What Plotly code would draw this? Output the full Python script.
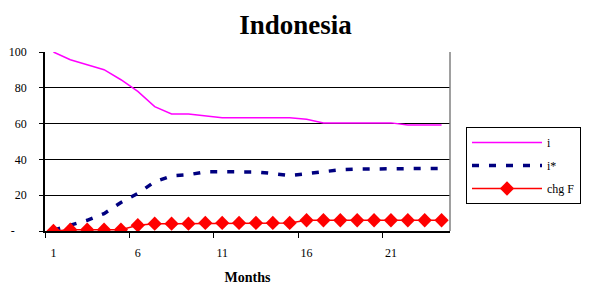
import plotly.graph_objects as go

months = list(range(1, 25))
i_vals = [100, 95.7, 92.9, 90.1, 84.5, 78, 69.5, 65.4, 65.4, 64.3, 63.3, 63.3,
          63.3, 63.3, 63.3, 62.4, 60.4, 60.4, 60.4, 60.4, 60.4, 59.2, 59.2, 59.2]
istar_vals = [0.5, 3.2, 6, 9.7, 15.9, 21, 27.5, 30.8, 31.4, 33.1, 33.1, 33,
              33, 32.1, 31, 32, 33, 34.2, 34.6, 34.6, 34.6, 34.6, 34.6, 35]
chgf_vals = [0, 0.7, 0.7, 0.7, 0.7, 3.2, 4.1, 4.1, 4.1, 4.5, 4.5, 4.5,
             4.5, 4.5, 4.5, 6, 6, 6, 6, 6, 6, 6, 6, 6]
y_ticks = [0, 20, 40, 60, 80, 100]
y_ticktext = ["-\u00a0\u00a0\u00a0\u00a0", "20", "40", "60", "80", "100"]

FONT = "Liberation Serif, Times New Roman, serif"

# page body has an 8px default margin; figure is sized so the plot lands where the reference has it
W, H = 583, 277

fig = go.Figure()
fig.add_trace(go.Scatter(x=months, y=i_vals, name="i", mode="lines", legendgroup="a",
                         line=dict(color="#FF00FF", width=1.5)))
fig.add_trace(go.Scatter(x=months, y=istar_vals, name="i*", mode="lines", legendgroup="b",
                         line=dict(color="#000080", width=3.5, dash="7px,10px")))
fig.add_trace(go.Scatter(x=months, y=chgf_vals, name="chg F", mode="lines+markers",
                         legendgroup="c",
                         line=dict(color="#FF0000", width=1.5),
                         marker=dict(symbol="diamond", size=11, color="#FF0000")))

fig.update_layout(
    width=W, height=H,
    margin=dict(l=37, r=141, t=44, b=54),
    paper_bgcolor="white", plot_bgcolor="white",
    font=dict(family=FONT, size=12, color="black"),
    title=dict(text="<b>Indonesia</b>", x=287.5 / W, xanchor="center",
               y=1 - 17 / H, yanchor="middle",
               font=dict(family=FONT, size=27, color="black")),
    showlegend=True,
    legend=dict(x=458 / W, xanchor="left", y=1 - 119 / H, yanchor="top",
                xref="container", yref="container",
                bordercolor="black", borderwidth=1, bgcolor="white",
                font=dict(family=FONT, size=12), itemwidth=70,
                tracegroupgap=4),
    xaxis=dict(type="category", tickson="boundaries", dtick=5, tick0=0,
               ticks="outside", ticklen=5, tickcolor="black", tickangle=0,
               showline=True, linecolor="black", linewidth=1.5,
               showgrid=False, zeroline=False, ticklabelstandoff=10, automargin=False,
               title=dict(text="<b>Months</b>", font=dict(family=FONT, size=14), standoff=14),
               range=[-0.5, 23.5]),
    yaxis=dict(range=[0, 100], tickvals=y_ticks, ticktext=y_ticktext,
               ticks="outside", ticklen=4, tickcolor="black", automargin=False,
               showline=True, linecolor="black", linewidth=1.5,
               showgrid=True, gridcolor="black", gridwidth=1,
               zeroline=False, ticklabelstandoff=10),
)
fig.add_shape(type="line", xref="x domain", yref="y domain", x0=1, x1=1, y0=0, y1=1,
              line=dict(color="#808080", width=1.5))
fig.write_html("out.html")
